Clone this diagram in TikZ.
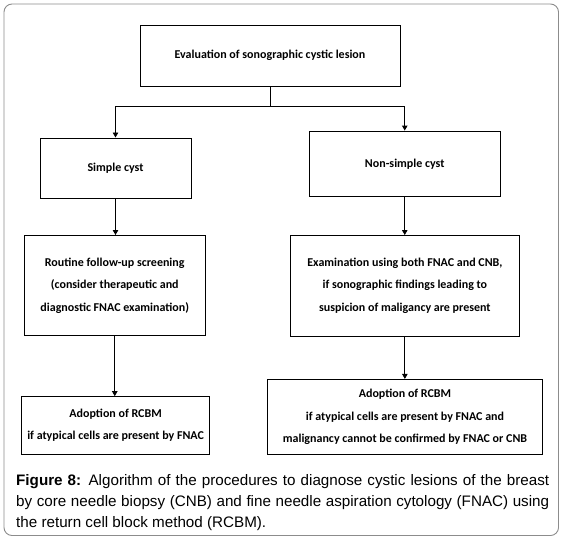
\documentclass[tikz,border=0pt]{standalone}
\usepackage{fontspec}
\setmainfont{Carlito}
\newfontfamily\capfont{Liberation Sans}
\usetikzlibrary{arrows.meta}
\begin{document}
\begin{tikzpicture}[x=1pt,y=-1pt,
  box/.style={draw=black,line width=1pt,inner sep=0pt,align=center,
    font=\fontsize{12}{22.4}\selectfont\bfseries},
  arr/.style={line width=0.9pt,-{Triangle[length=5pt,width=5.5pt]}},
  ln/.style={line width=0.9pt}]
\useasboundingbox (0,0) rectangle (564,541);
\draw[draw=black!45,line width=0.9pt,rounded corners=8pt] (4,4) rectangle (558.5,535.5);
\node[box,minimum width=260pt,minimum height=61pt] (top) at (270,55.5) {Evaluation of sonographic cystic lesion};
\node[box,minimum width=151pt,minimum height=60pt] (simple) at (115.5,168) {Simple cyst};
\node[box,minimum width=191.5pt,minimum height=65.5pt] (nonsimple) at (404.75,163.8) {Non-simple cyst};
\node[box,minimum width=180.5pt,minimum height=100pt] (routine) at (114.75,285.5) {Routine follow-up screening\\(consider therapeutic and\\diagnostic FNAC examination)};
\node[box,minimum width=228.3pt,minimum height=100.5pt] (exam) at (404.85,285.75) {Examination using both FNAC and CNB,\\if sonographic findings leading to\\suspicion of maligancy are present};
\node[box,minimum width=188.6pt,minimum height=57.7pt] (ladopt) at (115.6,425.5) {Adoption of RCBM\\if atypical cells are present by FNAC};
\node[box,minimum width=275.5pt,minimum height=75pt] (radopt) at (405,416.9) {Adoption of RCBM\\if atypical cells are present by FNAC and\\malignancy cannot be confirmed by FNAC or CNB};
\coordinate (jl) at (115.5,106.4);
\coordinate (jr) at (404.75,106.4);
\draw[ln] (top.south) -- (top.south |- jl);
\draw[ln] (jl) -- (jr);
\draw[arr] (jl) -- (simple.north);
\draw[arr] (jr) -- (nonsimple.north);
\draw[arr] (simple.south) -- (simple.south |- routine.north);
\draw[arr] (nonsimple.south) -- (nonsimple.south |- exam.north);
\draw[arr] (routine.south) -- (routine.south |- ladopt.north);
\draw[arr] (exam.south) -- (exam.south |- radopt.north);
\node[inner sep=0pt,anchor=base west] (cap) at (16,485) {\parbox[t]{533pt}{\capfont\fontsize{15.2}{21.2}\selectfont\textbf{Figure 8:} Algorithm of the procedures to diagnose cystic lesions of the breast\linebreak by core needle biopsy (CNB) and fine needle aspiration cytology (FNAC) using\linebreak the return cell block method (RCBM).}};
\end{tikzpicture}
\end{document}
